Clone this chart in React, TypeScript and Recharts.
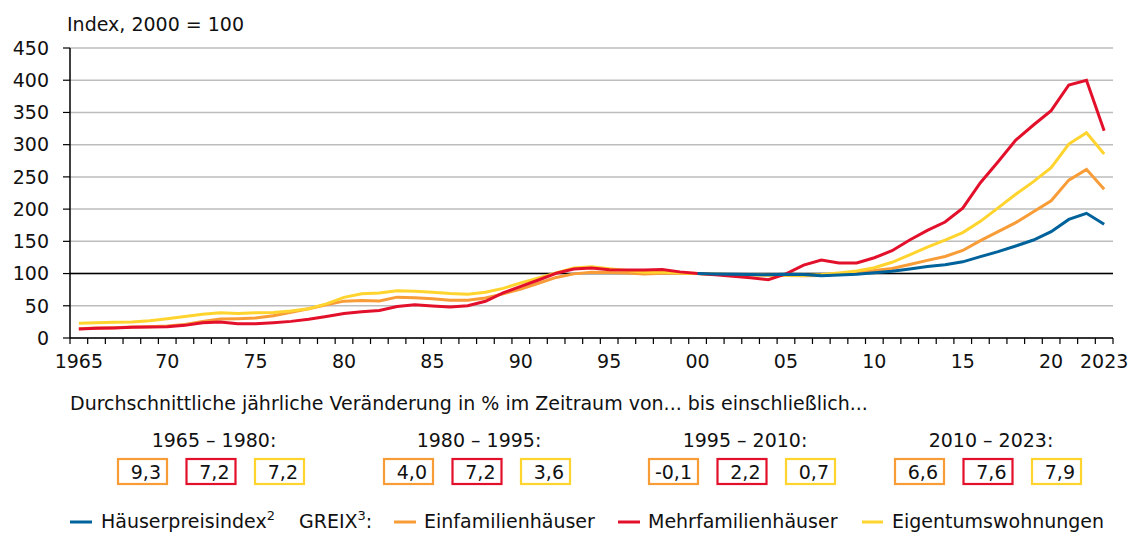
import React from "react";
import { LineChart, Line, XAxis, YAxis, CartesianGrid, ReferenceLine } from "recharts";

const years: number[] = [
  1965, 1966, 1967, 1968, 1969, 1970, 1971, 1972, 1973, 1974,
  1975, 1976, 1977, 1978, 1979, 1980, 1981, 1982, 1983, 1984,
  1985, 1986, 1987, 1988, 1989, 1990, 1991, 1992, 1993, 1994,
  1995, 1996, 1997, 1998, 1999, 2000, 2001, 2002, 2003, 2004,
  2005, 2006, 2007, 2008, 2009, 2010, 2011, 2012, 2013, 2014,
  2015, 2016, 2017, 2018, 2019, 2020, 2021, 2022, 2023,
];

// Häuserpreisindex (from 2000)
const haeuserpreisindex: (number | null)[] = [
  null, null, null, null, null, null, null, null, null, null,
  null, null, null, null, null, null, null, null, null, null,
  null, null, null, null, null, null, null, null, null, null,
  null, null, null, null, null, 100, 99.5, 99, 98.5, 98,
  98.8, 98.5, 96.5, 97.8, 99, 101.2, 103.5, 107, 111, 113.7,
  118.2, 126.2, 134, 142.8, 152, 165, 184, 193.5, 176.4,
];

// GREIX Einfamilienhäuser
const einfamilienhaeuser: number[] = [
  14.5, 15.5, 16, 17, 17.5, 18.5, 21, 25.8, 29.4, 30,
  31, 34.5, 40, 45.5, 51.5, 57.2, 58.2, 57.5, 63.4, 62.4,
  60.8, 58.5, 58.5, 62, 68.4, 76, 85, 94, 99.5, 102,
  101.5, 101, 99.5, 100.5, 100.5, 100, 99, 98.5, 98, 97.5,
  97, 96.5, 97, 99, 101, 104.8, 108, 114, 120.5, 126.5,
  135.8, 151, 165, 179, 196, 213, 245, 261.7, 230.7,
];

// GREIX Mehrfamilienhäuser
const mehrfamilienhaeuser: number[] = [
  13.9, 15, 15.5, 16.5, 17, 17.5, 19.6, 23.7, 24.7, 22.2,
  22.2, 23.7, 25.8, 29, 33.5, 38, 40.7, 42.8, 49, 51.5,
  49.5, 48, 50, 57, 70, 80, 90, 100.5, 107, 108.5,
  106, 105.7, 105.7, 106.2, 102.6, 100, 98, 96, 93.5, 90.5,
  99.5, 113, 121, 116.5, 116.5, 124.5, 135.5, 152, 167, 180,
  201.5, 241, 273.6, 307, 330.5, 352.7, 392.6, 400, 321.7,
];

// GREIX Eigentumswohnungen
const eigentumswohnungen: number[] = [
  22.7, 23.7, 24.5, 25, 26.8, 30, 33.5, 37, 39, 38,
  39, 39.7, 41.8, 45.4, 53, 63, 68.6, 70, 73.2, 72.5,
  71, 69, 68, 71, 77, 85.5, 93, 101, 108.8, 110.5,
  107.5, 104.6, 102, 102, 101, 100, 99, 98.5, 98, 97.5,
  97.5, 97, 98.5, 101, 104, 109, 117.5, 129, 141, 152,
  163.5, 181, 202, 223, 242.6, 264.3, 301, 318.6, 285.5,
];

const labelYears: number[] = [1965, 1970, 1975, 1980, 1985, 1990, 1995, 2000, 2005, 2010, 2015, 2020, 2023];
const yTicks: number[] = [0, 50, 100, 150, 200, 250, 300, 350, 400, 450];

const periods: string[] = ["1965 – 1980:", "1980 – 1995:", "1995 – 2010:", "2010 – 2023:"];
const rateEinfamilien: string[] = ["9,3", "4,0", "-0,1", "6,6"];
const rateMehrfamilien: string[] = ["7,2", "7,2", "2,2", "7,6"];
const rateEigentum: string[] = ["7,2", "3,6", "0,7", "7,9"];

const COLORS = {
  blue: "#00629B",
  orange: "#F89C38",
  red: "#E3102B",
  yellow: "#FFD42E",
};

const data = years.map((y, i) => ({
  year: y,
  hpi: haeuserpreisindex[i],
  efh: einfamilienhaeuser[i],
  mfh: mehrfamilienhaeuser[i],
  etw: eigentumswohnungen[i],
}));

const boundaryTicks: number[] = [...years.map((y) => y - 0.5), years[years.length - 1] + 0.5];
const xDomain: [number, number] = [years[0] - 0.5, years[years.length - 1] + 0.5];

const fmtYear = (v: number) => {
  if (v === 1965 || v === 2023) return String(v);
  return String(v % 100).padStart(2, "0");
};

const FONT = "'DejaVu Sans', sans-serif";

const EmptyTick = () => <g />;

// axis ids: "a" = year-boundary tick marks (closest to plot), "b" = year labels
const MARKS = "a";
const LABELS = "b";

export default function App() {
  const groupLeft = [117, 383, 648, 894];
  const groupCenter = [214, 479, 745, 991];
  const boxOffsets = [0, 68.5, 137];
  const boxColors = [COLORS.orange, COLORS.red, COLORS.yellow];
  const rates = [rateEinfamilien, rateMehrfamilien, rateEigentum];

  return (
    <div
      style={{
        position: "absolute",
        left: 0,
        top: 0,
        width: 1134,
        height: 533,
        background: "#fff",
        fontFamily: FONT,
        overflow: "hidden",
      }}
    >
      <div style={{ position: "absolute", left: 0, top: 0 }}>
        <LineChart
          width={1134}
          height={380}
          data={data}
          margin={{ top: 48, right: 21, bottom: 0, left: 10 }}
        >
          <CartesianGrid
            xAxisId={LABELS}
            vertical={false}
            stroke="#bdbdbd"
            strokeWidth={1.5}
          />
          <XAxis
            xAxisId={LABELS}
            dataKey="year"
            type="number"
            domain={xDomain}
            ticks={labelYears}
            interval={0}
            tickFormatter={fmtYear}
            tickSize={0}
            tickMargin={16}
            height={41}
            axisLine={false}
            tickLine={false}
            tick={{ fill: "#111", fontSize: 19, fontFamily: FONT }}
            allowDataOverflow
          />
          <XAxis
            xAxisId={MARKS}
            dataKey="year"
            type="number"
            domain={xDomain}
            ticks={boundaryTicks}
            interval={0}
            tick={EmptyTick}
            tickSize={6}
            height={1}
            axisLine={{ stroke: "#000", strokeWidth: 1.5 }}
            tickLine={{ stroke: "#000", strokeWidth: 1.2 }}
            allowDataOverflow
          />
          <YAxis
            domain={[0, 450]}
            ticks={yTicks}
            interval={0}
            width={60}
            tickSize={7}
            tickMargin={14}
            axisLine={{ stroke: "#000", strokeWidth: 1.5 }}
            tickLine={{ stroke: "#000", strokeWidth: 1.2 }}
            tick={{ fill: "#111", fontSize: 19, fontFamily: FONT }}
          />
          <ReferenceLine xAxisId={LABELS} y={100} stroke="#000" strokeWidth={1.5} />
          <Line
            xAxisId={LABELS}
            dataKey="efh"
            type="linear"
            stroke={COLORS.orange}
            strokeWidth={3}
            dot={false}
            isAnimationActive={false}
          />
          <Line
            xAxisId={LABELS}
            dataKey="etw"
            type="linear"
            stroke={COLORS.yellow}
            strokeWidth={3}
            dot={false}
            isAnimationActive={false}
          />
          <Line
            xAxisId={LABELS}
            dataKey="mfh"
            type="linear"
            stroke={COLORS.red}
            strokeWidth={3}
            dot={false}
            isAnimationActive={false}
          />
          <Line
            xAxisId={LABELS}
            dataKey="hpi"
            type="linear"
            stroke={COLORS.blue}
            strokeWidth={3}
            dot={false}
            connectNulls={false}
            isAnimationActive={false}
          />
        </LineChart>
      </div>

      <svg
        width={1134}
        height={533}
        style={{ position: "absolute", left: 0, top: 0, pointerEvents: "none" }}
        fontFamily={FONT}
      >
        <text x={67} y={31} fontSize={19} fill="#111">
          Index, 2000 = 100
        </text>

        <text x={70} y={410} fontSize={19} fill="#111">
          Durchschnittliche jährliche Veränderung in % im Zeitraum von... bis einschließlich...
        </text>

        {periods.map((p, g) => (
          <g key={p}>
            <text x={groupCenter[g]} y={447} fontSize={19} fill="#111" textAnchor="middle">
              {p}
            </text>
            {boxOffsets.map((off, k) => (
              <g key={k}>
                <rect
                  x={groupLeft[g] + off + 1}
                  y={459}
                  width={49}
                  height={25}
                  fill="#fff"
                  stroke={boxColors[k]}
                  strokeWidth={2.2}
                />
                <text
                  x={groupLeft[g] + off + 44}
                  y={479}
                  fontSize={19}
                  fill="#111"
                  textAnchor="end"
                >
                  {rates[k][g]}
                </text>
              </g>
            ))}
          </g>
        ))}

        <line x1={70} x2={92} y1={522} y2={522} stroke={COLORS.blue} strokeWidth={3} />
        <text x={101} y={528} fontSize={19} fill="#111">
          Häuserpreisindex<tspan fontSize={13} dy={-8}>2</tspan>
        </text>
        <text x={299} y={528} fontSize={19} fill="#111">
          GREIX<tspan fontSize={13} dy={-8}>3</tspan>
          <tspan dy={8}>:</tspan>
        </text>
        <line x1={394} x2={416} y1={522} y2={522} stroke={COLORS.orange} strokeWidth={3} />
        <text x={424} y={528} fontSize={19} fill="#111">
          Einfamilienhäuser
        </text>
        <line x1={618} x2={640} y1={522} y2={522} stroke={COLORS.red} strokeWidth={3} />
        <text x={648} y={528} fontSize={19} fill="#111">
          Mehrfamilienhäuser
        </text>
        <line x1={862} x2={883} y1={522} y2={522} stroke={COLORS.yellow} strokeWidth={3} />
        <text x={892} y={528} fontSize={19} fill="#111">
          Eigentumswohnungen
        </text>
      </svg>
    </div>
  );
}
